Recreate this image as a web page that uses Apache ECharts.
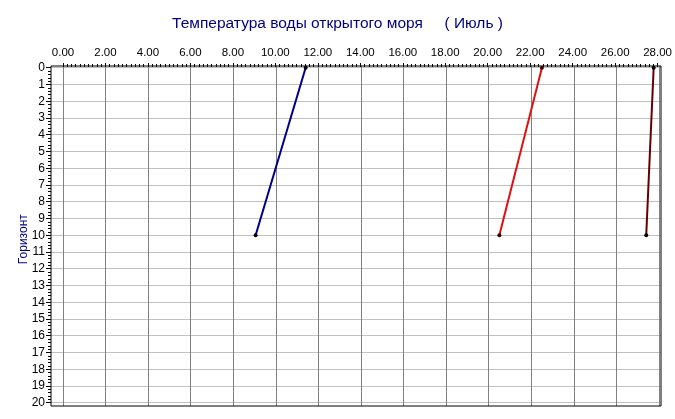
<!DOCTYPE html>
<html>
<head>
<meta charset="utf-8">
<script src="https://cdn.jsdelivr.net/npm/echarts@6/dist/echarts.min.js"></script>
<style>html,body{margin:0;padding:0;background:#fff;}#c{width:675px;height:419px;}</style>
</head>
<body>
<div id="c"></div>
<script>
var titleText = 'Температура воды открытого моря     ( Июль )';
var yName = 'Горизонт';
var depths = [0, 10];
var blueTemps = [11.4, 9.05];
var redTemps = [22.5, 20.5];
var darkTemps = [27.75, 27.4];
var xMin = 0, xMax = 28, xStep = 2;
var yMin = 0, yMax = 20, yStep = 1;

function pairs(t) { return t.map(function (v, i) { return [v, depths[i]]; }); }

var hidden = {
  show: false, axisLine: { show: false }, axisTick: { show: false },
  minorTick: { show: false }, axisLabel: { show: false },
  splitLine: { show: false }, minorSplitLine: { show: false }
};
function hid(o) { return Object.assign({}, hidden, o); }

var font = 'Liberation Sans';
var chart = echarts.init(document.getElementById('c'));
chart.setOption({
  animation: false,
  backgroundColor: '#fff',
  title: {
    text: titleText, left: 'center', top: 11,
    textStyle: { fontSize: 15.5, fontWeight: 'normal', color: '#000080', fontFamily: font }
  },
  grid: [
    { left: 51, right: 14, top: 66, bottom: 13, show: true, borderColor: '#000', borderWidth: 1, backgroundColor: 'transparent', z: 5 },
    { left: 63, right: 16, top: 66, bottom: 13 },
    { left: 51, right: 14, top: 67.7, bottom: 16.3 },
    { left: 63, right: 16, top: 66, height: 1 }
  ],
  xAxis: [
    hid({ gridIndex: 0, type: 'value', min: -0.5638, max: 28.094 }),
    hid({ gridIndex: 1, type: 'value', min: xMin, max: xMax, interval: xStep, show: true,
      splitLine: { show: true, lineStyle: { color: '#808080', width: 1 } } }),
    hid({ gridIndex: 2, type: 'value', min: 0, max: 1 }),
    {
      gridIndex: 3, type: 'value', position: 'top', min: xMin, max: xMax, interval: xStep,
      axisLine: { show: false },
      axisTick: { show: true, length: 4, lineStyle: { color: '#000' } },
      minorTick: { show: true, splitNumber: 10, length: 3, lineStyle: { color: '#000' } },
      axisLabel: { color: '#000', fontSize: 11.5, fontFamily: font, margin: 7, formatter: function (v) { return v.toFixed(2); } },
      splitLine: { show: false }, minorSplitLine: { show: false }
    }
  ],
  yAxis: [
    hid({ gridIndex: 0, type: 'value', min: -0.1015, max: 20.197, inverse: true }),
    hid({ gridIndex: 1, type: 'value', min: 0, max: 1 }),
    {
      gridIndex: 2, type: 'value', min: yMin, max: yMax, interval: yStep, inverse: true,
      name: yName, nameLocation: 'middle', nameGap: 21, nameMoveOverlap: false,
      nameTextStyle: { color: '#000080', fontSize: 12, fontFamily: font, padding: [0, 8, 0, 0] },
      axisLine: { show: false },
      axisTick: { show: true, length: 5, lineStyle: { color: '#000' } },
      minorTick: { show: true, splitNumber: 5, length: 3, lineStyle: { color: '#000' } },
      axisLabel: { color: '#000', fontSize: 12, fontFamily: font, margin: 6 },
      splitLine: { show: true, lineStyle: { color: '#c0c0c0', width: 1 } }
    },
    hid({ gridIndex: 3, type: 'value', min: 0, max: 1 })
  ],
  series: [
    { type: 'line', xAxisIndex: 0, yAxisIndex: 0, data: pairs(blueTemps), symbol: 'circle', symbolSize: 4,
      lineStyle: { color: '#000080', width: 2 }, itemStyle: { color: '#000' }, z: 10 },
    { type: 'line', xAxisIndex: 0, yAxisIndex: 0, data: pairs(redTemps), symbol: 'circle', symbolSize: 4,
      lineStyle: { color: '#dd1111', width: 2 }, itemStyle: { color: '#400000' }, z: 10 },
    { type: 'line', xAxisIndex: 0, yAxisIndex: 0, data: pairs(darkTemps), symbol: 'circle', symbolSize: 4,
      lineStyle: { color: '#660000', width: 2 }, itemStyle: { color: '#000' }, z: 10 }
  ]
});
</script>
</body>
</html>
